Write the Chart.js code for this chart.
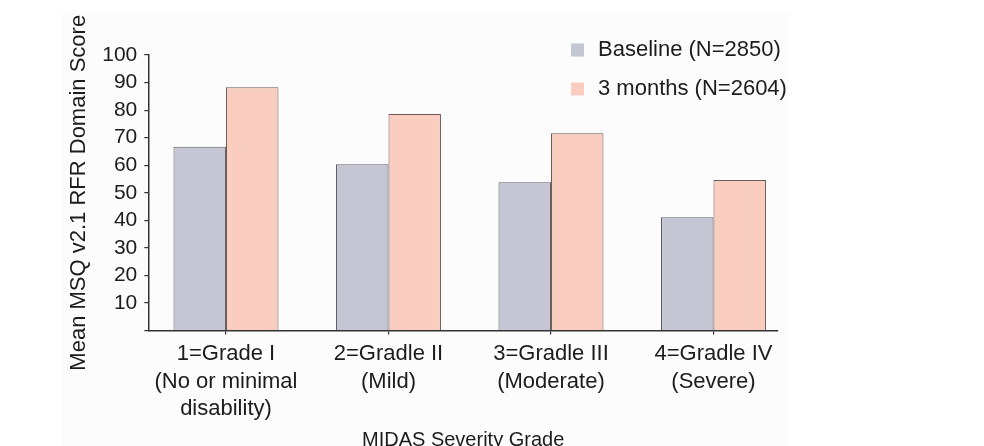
<!DOCTYPE html>
<html>
<head>
<meta charset="utf-8">
<script src="https://cdn.jsdelivr.net/npm/chart.js@4.4.1/dist/chart.umd.min.js"></script>
<style>
  html, body { margin: 0; padding: 0; background: #ffffff; }
  #wrap { position: relative; width: 984px; height: 446px; }
</style>
</head>
<body>
<div id="wrap"><canvas id="c" width="984" height="446"></canvas></div>
<script>
// ---- data ----
const categories = [
  ["1=Grade I", "(No or minimal", "disability)"],
  ["2=Gradle II", "(Mild)"],
  ["3=Gradle III", "(Moderate)"],
  ["4=Gradle IV", "(Severe)"]
];
const baselineLabel = "Baseline (N=2850)";
const monthsLabel = "3 months (N=2604)";
const baselineValues = [66.7, 60.3, 53.8, 41.1];
const monthsValues = [88.3, 78.6, 71.6, 54.6];
const yTickValues = [0, 10, 20, 30, 40, 50, 60, 70, 80, 90, 100];
const yTitle = "Mean MSQ v2.1 RFR Domain Score";
const xTitle = "MIDAS Severity Grade";

const FONT = "'Liberation Sans', Arial, Helvetica, sans-serif";
const TEXT = "#1c1c1c";

const panelPlugin = {
  id: 'panel',
  beforeDraw(chart) {
    const ctx = chart.ctx;
    ctx.save();
    ctx.fillStyle = '#ffffff';
    ctx.fillRect(0, 0, chart.width, chart.height);
    ctx.fillStyle = '#fcfcfc';
    ctx.fillRect(62, 13, 726, chart.height - 13);
    ctx.restore();
  }
};

const legendPlugin = {
  id: 'customLegend',
  afterDraw(chart) {
    const ctx = chart.ctx;
    ctx.save();
    ctx.font = "22px " + FONT;
    ctx.textBaseline = 'middle';
    ctx.textAlign = 'left';
    const rows = [50, 89];
    chart.data.datasets.forEach((ds, i) => {
      const y = rows[i];
      ctx.fillStyle = ds.backgroundColor;
      ctx.fillRect(571, y - 6.5, 13, 13);
      ctx.fillStyle = TEXT;
      ctx.fillText(ds.label, 598, y);
    });
    ctx.restore();
  }
};

const toPoints = vals => vals.map((v, i) => ({ x: i + 1, y: v }));

new Chart(document.getElementById('c'), {
  type: 'bar',
  data: {
    datasets: [
      {
        label: baselineLabel,
        data: toPoints(baselineValues),
        backgroundColor: '#c4c6d4',
        borderColor: '#5e5e66',
        borderWidth: 1,
        borderSkipped: 'bottom'
      },
      {
        label: monthsLabel,
        data: toPoints(monthsValues),
        backgroundColor: '#f9cec0',
        borderColor: '#6a5a58',
        borderWidth: 1,
        borderSkipped: 'bottom'
      }
    ]
  },
  options: {
    responsive: false,
    animation: false,
    devicePixelRatio: 1,
    layout: { padding: { top: 55, right: 206, bottom: 0, left: 0 } },
    datasets: { bar: { categoryPercentage: 0.646, barPercentage: 1.0 } },
    plugins: {
      legend: { display: false },
      tooltip: { enabled: false },
      title: { display: false }
    },
    scales: {
      x: {
        type: 'linear',
        offset: false,
        min: 0.522,
        max: 4.397,
        afterFit(scale) { scale.height = 115.5; },
        afterBuildTicks(scale) {
          scale.ticks = categories.map((c, i) => ({ value: i + 1 }));
        },
        ticks: {
          autoSkip: false,
          maxRotation: 0,
          minRotation: 0,
          padding: 6,
          color: TEXT,
          font: { family: FONT, size: 22, lineHeight: 1.25 },
          callback: (value) => categories[Math.round(value) - 1] || ''
        },
        grid: {
          offset: false,
          drawOnChartArea: false,
          drawTicks: true,
          tickLength: 4,
          color: '#333333',
          lineWidth: 1.2
        },
        border: { display: true, color: '#333333', width: 1.5 },
        title: {
          display: true,
          text: xTitle,
          color: TEXT,
          font: { family: FONT, size: 20, lineHeight: 0.6 },
          padding: { top: 0, bottom: 0 }
        }
      },
      y: {
        min: 0,
        max: 100,
        afterFit(scale) { scale.width = 148.3; },
        afterBuildTicks(scale) {
          scale.ticks = yTickValues.map(v => ({ value: v }));
        },
        ticks: {
          autoSkip: false,
          padding: 7,
          color: TEXT,
          font: { family: FONT, size: 21 },
          callback: (value) => value === 0 ? '' : String(value)
        },
        grid: {
          drawOnChartArea: false,
          drawTicks: true,
          tickLength: 4,
          color: '#333333',
          lineWidth: 1.2
        },
        border: { display: true, color: '#333333', width: 1.5 },
        title: {
          display: true,
          text: yTitle,
          color: TEXT,
          font: { family: FONT, size: 22, lineHeight: 1.2 },
          padding: { top: 66, bottom: 0 }
        }
      }
    }
  },
  plugins: [panelPlugin, legendPlugin]
});
</script>
</body>
</html>
